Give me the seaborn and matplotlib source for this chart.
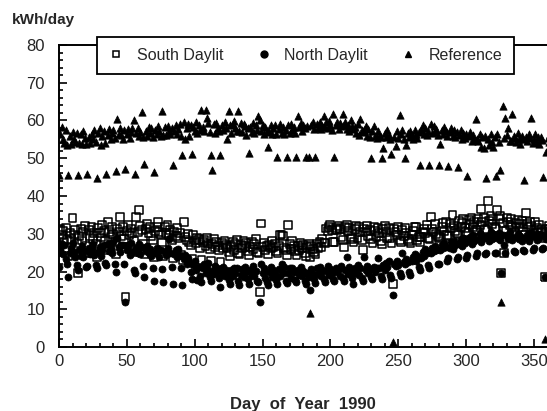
import numpy as np
import pandas as pd
import matplotlib
matplotlib.use("Agg")
import matplotlib.pyplot as plt
from matplotlib.lines import Line2D
from matplotlib.ticker import MultipleLocator
import seaborn as sns

# daily energy use (kWh/day), one row per week, day 0 = first Sunday of 1990
south = [
    25.3, 31.2, 29.6, 30.8, 27.9, 31.5, 28.4,
    24.1, 30.3, 28.7, 34.1, 29.8, 31.0, 27.6,
    19.6, 29.4, 31.3, 28.2, 30.6, 32.1, 26.9,
    24.8, 30.9, 29.3, 31.8, 28.6, 30.2, 27.3,
    23.9, 31.6, 30.1, 29.0, 32.4, 30.7, 28.1,
    25.6, 33.2, 30.4, 29.1, 31.7, 30.0, 27.8,
    24.7, 31.3, 30.6, 34.5, 29.4, 31.9, 28.5,
    13.3, 30.8, 32.3, 29.7, 31.4, 30.2, 28.0,
    25.2, 34.4, 30.5, 36.4, 32.0, 30.9, 27.4,
    24.6, 31.2, 32.6, 30.1, 31.8, 29.5, 28.2,
    23.8, 30.7, 31.9, 33.2, 30.4, 29.8, 27.7,
    24.2, 31.7, 30.2, 32.4, 29.6, 31.1, 28.3,
    23.5, 30.6, 29.4, 31.5, 28.8, 30.3, 24.3,
    22.9, 33.2, 29.1, 28.4, 30.0, 27.8, 26.9,
    23.4, 29.6, 28.2, 27.5, 29.0, 28.7, 26.2,
    23.1, 27.9, 28.3, 26.8, 28.9, 27.4, 25.9,
    22.8, 27.2, 28.5, 26.4, 27.8, 26.9, 25.6,
    22.6, 27.6, 26.3, 28.1, 27.0, 26.5, 25.2,
    24.1, 26.8, 27.9, 25.7, 27.3, 28.4, 25.0,
    24.5, 27.1, 26.2, 28.0, 26.7, 27.5, 25.3,
    24.3, 26.6, 27.8, 25.9, 27.2, 28.6, 25.1,
    24.8, 14.6, 32.7, 26.4, 27.6, 25.8, 26.9,
    24.6, 27.0, 26.1, 28.2, 26.5, 27.4, 25.4,
    24.9, 26.7, 29.6, 29.8, 29.5, 26.3, 25.7,
    24.4, 32.3, 27.2, 26.0, 28.1, 26.8, 25.5,
    24.3, 26.9, 25.8, 27.6, 26.2, 27.1, 24.9,
    24.0, 26.5, 27.3, 23.8, 26.8, 25.9, 25.1,
    24.6, 27.4, 26.2, 27.9, 26.6, 28.5, 27.7,
    27.6, 31.4, 30.8, 31.9, 32.3, 31.1, 27.9,
    27.9, 31.6, 30.9, 32.1, 31.3, 29.2, 28.4,
    26.5, 31.8, 32.4, 30.7, 31.5, 29.0, 28.6,
    27.8, 31.2, 32.0, 28.9, 31.7, 30.5, 28.3,
    25.7, 31.4, 30.6, 32.2, 29.3, 31.0, 28.7,
    27.5, 31.9, 30.8, 29.1, 31.6, 30.3, 28.1,
    27.2, 31.3, 32.0, 30.4, 28.8, 31.5, 28.9,
    27.4, 16.7, 31.2, 30.5, 29.7, 31.8, 28.2,
    27.9, 30.9, 29.4, 31.6, 30.2, 28.6, 28.0,
    27.6, 29.8, 30.7, 31.8, 31.7, 28.4, 29.1,
    27.9, 29.2, 30.6, 31.3, 30.1, 32.4, 28.8,
    28.5, 34.5, 31.2, 30.4, 32.6, 29.9, 29.3,
    28.9, 29.2, 31.8, 32.9, 30.6, 33.1, 29.6,
    29.4, 32.7, 31.5, 34.9, 32.2, 30.8, 30.1,
    29.8, 33.4, 31.9, 32.8, 34.0, 31.6, 30.4,
    30.2, 33.7, 32.5, 34.3, 31.8, 33.0, 30.9,
    30.6, 33.9, 32.4, 36.5, 33.2, 34.1, 31.3,
    31.0, 38.6, 33.5, 34.8, 32.6, 33.9, 31.5,
    31.2, 36.2, 33.8, 34.6, 19.5, 32.9, 24.8,
    30.8, 34.3, 33.1, 32.4, 34.0, 31.7, 30.5,
    30.1, 32.8, 33.6, 31.9, 32.7, 33.3, 30.4,
    29.6, 35.4, 32.5, 31.8, 33.0, 32.2, 29.9,
    29.5, 33.2, 31.6, 30.5, 32.4, 31.1, 30.5,
    28.8, 18.6, 31.2, 30.6, 32.0, 31.4, 29.7,
    28.5,
]

north = [
    21.3, 25.8, 27.2, 24.6, 26.9, 23.4, 22.1,
    18.6, 24.9, 26.3, 27.5, 25.1, 23.8, 21.7,
    20.4, 25.6, 24.2, 26.8, 23.9, 25.3, 21.2,
    21.5, 26.1, 24.7, 25.9, 27.3, 24.4, 21.8,
    20.9, 25.2, 26.6, 24.1, 25.7, 26.9, 22.3,
    21.6, 27.4, 25.5, 26.2, 24.8, 27.8, 22.0,
    19.9, 28.8, 26.4, 25.1, 27.0, 27.0, 21.9,
    11.8, 25.7, 26.9, 24.3, 27.6, 25.2, 20.4,
    19.6, 26.2, 25.0, 27.3, 24.6, 26.5, 21.4,
    18.6, 25.4, 26.7, 24.9, 26.0, 24.2, 21.0,
    17.5, 24.8, 26.1, 25.5, 23.9, 25.8, 20.6,
    17.1, 25.2, 24.4, 26.3, 28.7, 24.9, 21.3,
    16.8, 24.6, 25.7, 23.8, 26.0, 24.3, 20.9,
    16.3, 23.2, 24.5, 22.1, 23.7, 22.6, 19.8,
    17.9, 21.6, 22.8, 20.4, 17.7, 21.3, 18.9,
    17.2, 20.8, 21.9, 19.6, 20.9, 22.3, 18.5,
    17.4, 20.1, 19.4, 21.5, 19.8, 20.7, 18.2,
    16.0, 19.7, 21.2, 18.9, 20.4, 19.3, 17.8,
    16.6, 20.3, 18.7, 21.0, 19.5, 20.8, 17.6,
    16.4, 19.2, 20.6, 18.5, 21.3, 19.9, 17.9,
    16.8, 20.5, 19.1, 21.4, 18.8, 20.2, 17.5,
    17.1, 12.0, 22.0, 19.6, 20.9, 18.4, 17.3,
    16.5, 19.8, 21.1, 18.6, 20.3, 19.4, 17.7,
    16.7, 20.6, 18.9, 22.0, 19.7, 21.2, 17.4,
    16.9, 19.5, 20.8, 18.3, 21.0, 19.9, 17.8,
    17.2, 20.4, 19.0, 21.3, 18.7, 20.1, 17.6,
    16.8, 19.7, 18.5, 15.1, 20.6, 19.3, 17.9,
    17.0, 20.9, 19.4, 21.1, 18.8, 20.5, 18.1,
    17.3, 20.2, 21.4, 19.1, 20.7, 19.6, 18.0,
    17.5, 21.0, 19.8, 20.6, 18.9, 21.5, 18.3,
    17.4, 20.4, 23.9, 19.3, 21.2, 20.0, 18.2,
    16.8, 20.8, 19.5, 21.6, 19.0, 20.9, 18.4,
    17.6, 23.9, 20.3, 21.4, 19.7, 20.6, 18.6,
    17.9, 21.2, 19.9, 20.8, 23.5, 21.0, 18.8,
    18.1, 21.7, 20.5, 22.3, 21.1, 22.8, 19.2,
    18.4, 13.9, 22.1, 21.4, 22.9, 21.7, 19.5,
    18.7, 24.8, 22.6, 21.9, 23.3, 22.4, 19.8,
    19.1, 22.8, 23.9, 24.6, 22.7, 24.1, 21.2,
    20.4, 23.5, 25.1, 24.2, 26.0, 24.8, 21.6,
    21.0, 24.9, 26.3, 25.4, 26.8, 25.7, 21.9,
    22.1, 25.6, 27.0, 26.2, 27.5, 26.4, 22.8,
    23.5, 26.3, 27.7, 25.9, 28.1, 27.0, 23.2,
    23.9, 27.2, 28.3, 26.8, 28.9, 27.6, 23.7,
    24.3, 28.0, 29.1, 27.4, 29.6, 28.2, 24.1,
    24.8, 28.5, 30.2, 27.9, 29.4, 28.8, 24.6,
    24.8, 29.3, 28.1, 30.5, 28.7, 29.9, 25.0,
    24.9, 29.0, 30.3, 28.4, 19.5, 29.6, 27.1,
    24.8, 29.8, 28.6, 30.4, 29.1, 28.3, 25.3,
    25.2, 29.2, 30.0, 28.7, 29.5, 28.1, 25.6,
    25.4, 28.9, 29.7, 28.2, 30.1, 29.3, 25.8,
    26.1, 29.5, 28.4, 29.9, 28.8, 29.6, 26.0,
    26.1, 18.6, 28.7, 29.8, 28.5, 29.2, 26.3,
    26.2,
]

reference = [
    45.5, 56.5, 58.3, 55.2, 54.1, 57.4, 53.6,
    45.6, 55.8, 53.9, 56.9, 55.1, 54.2, 56.7,
    45.6, 54.0, 56.4, 53.7, 57.2, 55.3, 53.8,
    45.8, 55.6, 54.0, 56.5, 55.2, 57.6, 54.3,
    44.9, 56.8, 57.9, 53.4, 55.8, 57.3, 54.0,
    45.8, 56.1, 57.8, 55.0, 56.6, 57.5, 55.4,
    46.5, 60.5, 56.3, 57.9, 56.2, 55.2, 57.6,
    47.1, 56.4, 57.7, 55.3, 56.9, 58.0, 60.0,
    45.8, 56.7, 58.1, 55.8, 57.0, 62.3, 55.6,
    48.6, 57.3, 56.0, 58.4, 56.8, 57.9, 55.7,
    46.3, 57.6, 56.4, 58.6, 57.2, 55.9, 62.4,
    56.2, 58.3, 56.1, 58.5, 57.3, 56.4, 58.0,
    48.1, 57.1, 58.8, 56.3, 57.7, 59.0, 55.9,
    50.8, 59.6, 55.2, 57.9, 59.1, 55.8, 58.8,
    51.0, 58.4, 57.1, 59.5, 56.8, 58.8, 57.4,
    62.7, 58.3, 57.1, 62.7, 60.7, 59.3, 56.9,
    50.8, 46.8, 59.1, 56.7, 59.4, 58.1, 57.2,
    50.8, 58.9, 57.4, 59.7, 58.0, 55.0, 62.4,
    58.7, 56.8, 59.2, 59.8, 58.1, 57.1, 62.4,
    57.3, 59.3, 56.9, 59.0, 58.5, 56.2, 57.9,
    51.5, 58.2, 57.0, 59.3, 56.8, 58.9, 57.5,
    61.2, 60.0, 57.1, 58.8, 56.5, 58.3, 57.2,
    53.0, 57.0, 58.7, 56.4, 57.9, 58.9, 56.3,
    50.3, 57.8, 59.0, 56.7, 58.2, 56.5, 57.6,
    50.3, 58.8, 56.8, 59.2, 57.5, 58.4, 56.7,
    50.3, 61.2, 58.3, 59.4, 57.3, 58.9, 58.1,
    50.3, 58.5, 50.3, 8.9, 58.7, 59.5, 57.8,
    50.3, 59.2, 58.0, 59.7, 57.8, 58.6, 61.2,
    58.4, 59.5, 58.1, 59.9, 58.8, 57.5, 61.8,
    50.3, 58.7, 59.7, 57.8, 59.3, 58.6, 61.8,
    58.9, 59.6, 57.8, 58.8, 57.2, 60.0, 58.5,
    57.8, 58.4, 56.7, 59.2, 56.2, 60.3, 57.4,
    56.9, 57.5, 58.5, 55.9, 57.8, 55.5, 50.1,
    57.2, 58.5, 56.0, 55.4, 57.1, 55.8, 55.6,
    50.1, 52.6, 56.8, 55.5, 57.6, 56.1, 55.0,
    51.0, 1.4, 55.7, 53.3, 57.2, 55.4, 61.4,
    56.4, 57.4, 55.2, 50.1, 53.4, 56.8, 55.5,
    57.3, 56.2, 55.1, 57.4, 56.4, 55.4, 56.9,
    48.3, 57.4, 58.9, 56.4, 57.9, 56.1, 57.2,
    48.3, 59.2, 56.7, 58.6, 56.9, 57.7, 56.2,
    48.3, 53.9, 57.5, 56.4, 58.4, 57.2, 56.0,
    48.0, 56.9, 58.1, 55.9, 57.4, 55.5, 57.0,
    47.7, 56.2, 57.4, 55.0, 56.8, 55.3, 56.5,
    45.3, 55.8, 56.9, 54.5, 56.2, 54.9, 60.5,
    55.1, 54.6, 56.3, 53.0, 55.5, 52.8, 55.9,
    44.8, 55.2, 53.4, 56.4, 54.4, 52.9, 55.6,
    45.3, 56.3, 54.4, 46.8, 11.8, 63.8, 55.4,
    60.7, 56.2, 58.0, 54.7, 54.6, 61.8, 55.9,
    55.3, 54.3, 56.7, 55.0, 53.8, 55.8, 55.1,
    44.2, 55.6, 54.5, 56.4, 55.4, 60.7, 54.1,
    55.2, 56.3, 54.4, 55.7, 53.9, 55.5, 54.9,
    45.0, 2.0, 51.7, 55.4, 54.2, 56.3, 55.1,
    45.2,
]

days = np.arange(len(south))
df = pd.DataFrame({"day": days, "South Daylit": south,
                   "North Daylit": north, "Reference": reference})

sns.set_style("ticks")
plt.rcParams["font.family"] = ["Liberation Sans", "DejaVu Sans"]

fig = plt.figure(figsize=(5.47, 4.11), dpi=100)
ax = fig.add_axes([59 / 547, 64 / 411, 488 / 547, 302 / 411])

sns.scatterplot(data=df, x="day", y="South Daylit", ax=ax, marker="s", s=32,
                facecolor="none", edgecolor="black", linewidth=1.1, zorder=3)
sns.scatterplot(data=df, x="day", y="North Daylit", ax=ax, marker="o", s=26,
                color="black", edgecolor="black", linewidth=0.5, zorder=4)
sns.scatterplot(data=df, x="day", y="Reference", ax=ax, marker="^", s=28,
                color="black", edgecolor="black", linewidth=0.5, zorder=5)

ax.set_xlim(0, 359.6)
ax.set_ylim(0, 80)
ax.xaxis.set_major_locator(MultipleLocator(50))
ax.xaxis.set_minor_locator(MultipleLocator(10))
ax.yaxis.set_major_locator(MultipleLocator(10))
ax.yaxis.set_minor_locator(MultipleLocator(2))
ax.tick_params(which="both", direction="in", color="black", width=1.2)
ax.tick_params(which="major", length=6, labelsize=12)
ax.tick_params(axis="y", which="major", pad=10)
ax.tick_params(axis="x", which="major", pad=5)
ax.tick_params(which="minor", length=3)
ax.spines["right"].set_visible(False)
for side in ["left", "bottom", "top"]:
    ax.spines[side].set_color("black")
    ax.spines[side].set_linewidth(1.4)

ax.set_xlabel("Day  of  Year  1990", fontsize=12, fontweight="bold", labelpad=20)
ax.set_ylabel("")
fig.text(12 / 547, 1 - 20 / 411, "kWh/day", fontsize=11, fontweight="bold",
         va="center", ha="left")

handles = [
    Line2D([], [], ls="", marker="s", ms=5, mfc="none", mec="black", mew=1.1),
    Line2D([], [], ls="", marker="o", ms=5, mfc="black", mec="black"),
    Line2D([], [], ls="", marker="^", ms=5, mfc="black", mec="black"),
]
leg = ax.legend(handles, ["South Daylit", "North Daylit", "Reference"],
                loc="center", bbox_to_anchor=(0.505, 0.965), ncol=3,
                frameon=True, fancybox=False, framealpha=1, fontsize=11.5,
                handletextpad=0.8, columnspacing=2.0, borderpad=0.7,
                handlelength=1.0, borderaxespad=0)
leg.get_frame().set_edgecolor("black")
leg.get_frame().set_linewidth(1.3)
leg.set_zorder(10)

fig.savefig("out.png", dpi=100)
